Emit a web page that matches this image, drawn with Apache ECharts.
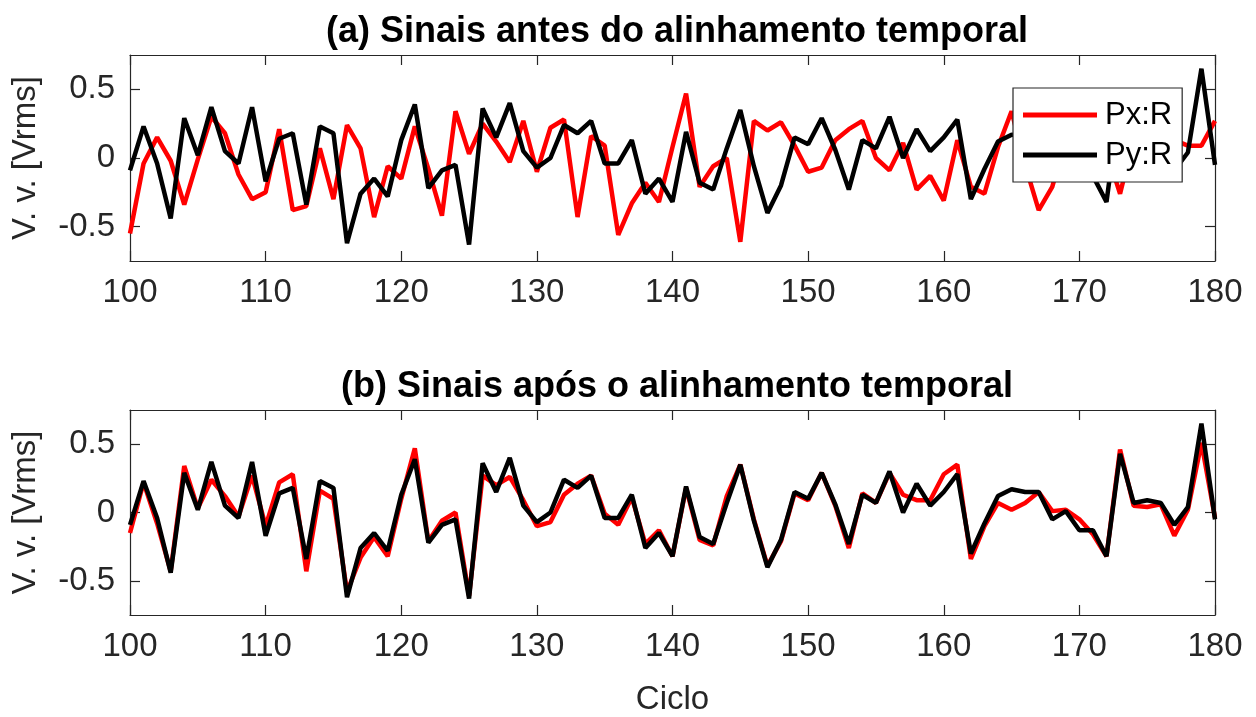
<!DOCTYPE html>
<html>
<head>
<meta charset="utf-8">
<script src="https://cdn.jsdelivr.net/npm/echarts@6/dist/echarts.min.js"></script>
<style>html,body{margin:0;padding:0;background:#fff}#c{width:1256px;height:717px}</style>
</head>
<body>
<div id="c"></div>
<script>
var firstCycle = 100, lastCycle = 180;
var xTicks = [100, 110, 120, 130, 140, 150, 160, 170, 180];
var yTicks = [-0.5, 0, 0.5];
var titleA = '(a) Sinais antes do alinhamento temporal';
var titleB = '(b) Sinais após o alinhamento temporal';
var yName = 'V. v. [Vrms]';
var xName = 'Ciclo';

// Px:R before alignment (red, top)
var pxBefore = [-0.55,-0.04,0.15,-0.02,-0.34,-0.01,0.30,0.18,-0.12,-0.30,
  -0.25,0.21,-0.38,-0.35,0.07,-0.30,0.24,0.07,-0.43,-0.06,
  -0.15,0.23,-0.08,-0.42,0.34,0.03,0.25,0.12,-0.03,0.27,
  -0.10,0.22,0.28,-0.43,0.16,0.09,-0.56,-0.33,-0.18,-0.32,
  0.08,0.47,-0.21,-0.06,0.00,-0.61,0.27,0.20,0.26,0.09,
  -0.10,-0.07,0.13,0.21,0.27,0.00,-0.09,0.11,-0.23,-0.13,
  -0.31,0.13,-0.21,-0.26,0.08,0.34,-0.05,-0.38,-0.21,0.14,
  0.09,0.29,0.05,-0.26,0.14,0.07,0.28,0.13,0.09,0.09,0.27];
// Py:R (black, same in both panels)
var py = [-0.09,0.23,-0.04,-0.44,0.29,0.02,0.37,0.05,-0.04,0.37,
  -0.17,0.14,0.18,-0.34,0.23,0.18,-0.62,-0.26,-0.15,-0.28,
  0.13,0.39,-0.22,-0.09,-0.05,-0.63,0.36,0.15,0.40,0.05,
  -0.07,0.00,0.24,0.18,0.27,-0.04,-0.04,0.13,-0.26,-0.15,
  -0.32,0.19,-0.18,-0.23,0.07,0.35,-0.06,-0.40,-0.20,0.15,
  0.10,0.29,0.06,-0.23,0.13,0.07,0.30,0.00,0.21,0.05,
  0.15,0.28,-0.30,-0.08,0.12,0.17,0.15,0.15,-0.05,0.01,
  -0.13,-0.13,-0.32,0.43,0.07,0.09,0.07,-0.09,0.04,0.65,-0.05];
// Px:R after alignment (red, bottom)
var pxAfter = [-0.15,0.22,-0.08,-0.43,0.34,0.03,0.24,0.12,-0.03,0.27,
  -0.10,0.22,0.28,-0.43,0.16,0.10,-0.58,-0.33,-0.18,-0.32,
  0.10,0.47,-0.21,-0.06,0.00,-0.61,0.27,0.20,0.26,0.09,
  -0.10,-0.07,0.13,0.21,0.27,-0.01,-0.09,0.11,-0.23,-0.13,
  -0.32,0.18,-0.20,-0.24,0.12,0.35,-0.05,-0.39,-0.21,0.14,
  0.09,0.29,0.05,-0.26,0.14,0.07,0.29,0.13,0.09,0.09,
  0.28,0.35,-0.34,-0.10,0.07,0.02,0.07,0.15,0.01,0.02,
  -0.05,-0.16,-0.32,0.46,0.05,0.04,0.06,-0.17,0.02,0.51,-0.04];

function pairs(vals){ return vals.map(function(v,i){ return [firstCycle + i, v]; }); }

var AX = '#262626';
var FONT = 'Liberation Sans, Arial, Helvetica, sans-serif';
var grids = [
  {left:130, top:55, width:1085, height:206},
  {left:130, top:410, width:1085, height:206}
];
function xAx(g, pos, showLabel, name){
  return {type:'value', gridIndex:g, position:pos, min:firstCycle, max:lastCycle, interval:10,
    axisLine:{show:true, onZero:false, lineStyle:{color:AX, width:1.2}},
    axisTick:{show:true, inside:true, length:10, lineStyle:{color:AX, width:1.2}},
    axisLabel:{show:showLabel, color:AX, fontSize:33, fontFamily:FONT, margin:15},
    splitLine:{show:false},
    name:name||'', nameLocation:'middle', nameGap:68,
    nameTextStyle:{color:AX, fontSize:33, fontFamily:FONT}};
}
function yAx(g, pos, showLabel){
  return {type:'value', gridIndex:g, position:pos, min:-0.75, max:0.75,
    axisLine:{show:true, onZero:false, lineStyle:{color:AX, width:1.2}},
    axisTick:{show:true, inside:true, length:10, customValues:yTicks, lineStyle:{color:AX, width:1.2}},
    axisLabel:{show:showLabel, customValues:yTicks, color:AX, fontSize:33, fontFamily:FONT, margin:15,
      formatter:function(v){ return String(v); }},
    splitLine:{show:false},
    name: showLabel ? yName : '', nameLocation:'middle', nameGap:88, nameRotate:90,
    nameTextStyle:{color:AX, fontSize:33, fontFamily:FONT}};
}
function line(name, vals, color, xi, yi){
  return {type:'line', name:name, data:pairs(vals), xAxisIndex:xi, yAxisIndex:yi,
    symbol:'none', clip:true, lineStyle:{color:color, width:4.5}, itemStyle:{color:color}};
}
var chart = echarts.init(document.getElementById('c'), null, {renderer:'canvas'});
chart.setOption({
  animation:false,
  backgroundColor:'#ffffff',
  title:[
    {text:titleA, left:672, top:9, textAlign:'center', textStyle:{color:'#000', fontSize:36, fontWeight:'bold', fontFamily:FONT}},
    {text:titleB, left:672, top:364, textAlign:'center', textStyle:{color:'#000', fontSize:36, fontWeight:'bold', fontFamily:FONT}}
  ],
  grid:grids,
  xAxis:[xAx(0,'bottom',true), xAx(0,'top',false), xAx(1,'bottom',true,xName), xAx(1,'top',false)],
  yAxis:[yAx(0,'left',true), yAx(0,'right',false), yAx(1,'left',true), yAx(1,'right',false)],
  legend:{show:true, data:['Px:R','Py:R'], orient:'vertical', left:1013, top:88,
    padding:[10,10,10,10], itemGap:6, itemWidth:74, itemHeight:5, icon:'rect',
    backgroundColor:'#ffffff', borderColor:AX, borderWidth:1.2,
    textStyle:{color:'#000', fontSize:31, fontFamily:FONT, lineHeight:34, padding:[0,0,0,3]}},
  series:[
    line('Px:R', pxBefore, '#ff0000', 0, 0),
    line('Py:R', py, '#000000', 0, 0),
    line('Px:R', pxAfter, '#ff0000', 2, 2),
    line('Py:R', py, '#000000', 2, 2)
  ]
});
</script>
</body>
</html>
